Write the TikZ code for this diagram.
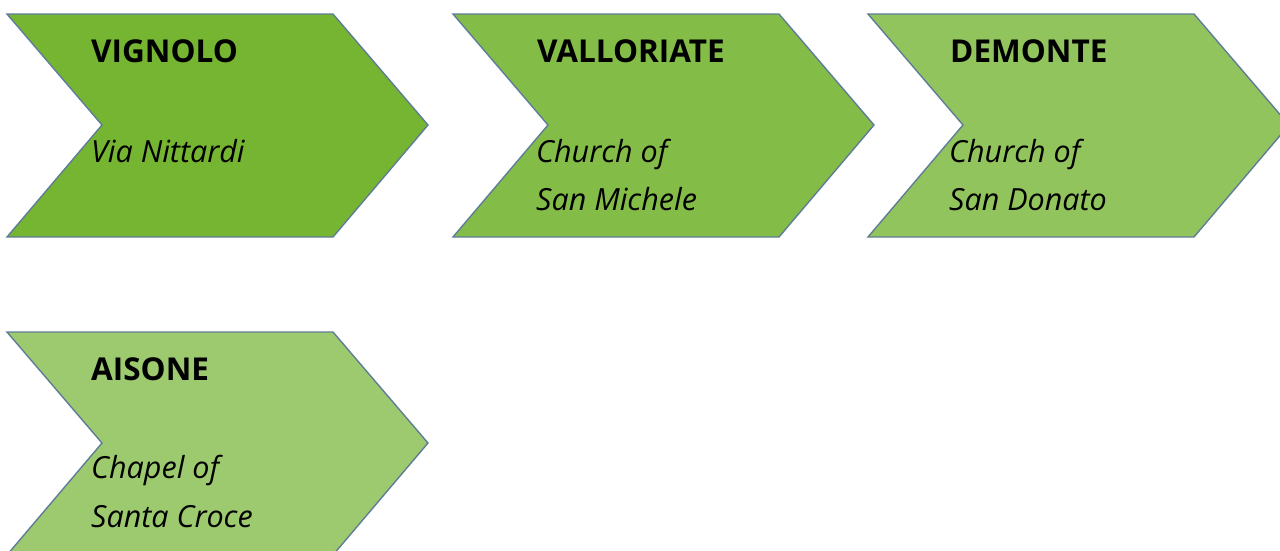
\documentclass[tikz,border=0pt]{standalone}
\usepackage{fontspec}
\setmainfont{Open Sans}
\definecolor{gA}{RGB}{118,181,49}
\definecolor{gB}{RGB}{132,188,72}
\definecolor{gC}{RGB}{146,196,93}
\definecolor{gD}{RGB}{157,202,110}
\definecolor{edge}{RGB}{95,125,150}
\tikzset{
  chev/.style={draw=edge, line width=1.4pt, line join=miter},
  ttl/.style={anchor=base west, inner sep=0pt, font=\fontsize{31.5}{36}\selectfont\bfseries},
  sub/.style={anchor=base west, inner sep=0pt, font=\fontsize{30.5}{48}\selectfont\itshape, align=left},
}
\newcommand{\chevron}[3]{%
  \fill[#3] (#1,#2) -- ++(326,0) -- ++(95,111) -- ++(-95,112) -- ++(-326,0) -- ++(95,-112) -- cycle;
  \draw[chev] (#1,#2) -- ++(326,0) -- ++(95,111) -- ++(-95,112) -- ++(-326,0) -- ++(95,-112) -- cycle;
}
\begin{document}
\begin{tikzpicture}[x=1pt,y=-1pt]
\useasboundingbox (0,0) rectangle (1280,550);
\begin{scope}
\clip (0,0) rectangle (1280,550);
\chevron{7}{14}{gA}
\chevron{453}{14}{gB}
\chevron{868}{14}{gC}
\chevron{7}{332}{gD}
\end{scope}
\node[ttl] (t1) at (91,62) {VIGNOLO};
\node[sub] (s1) at (91,162) {Via Nittardi};
\node[ttl] (t2) at (537,62) {VALLORIATE};
\node[sub] (s2a) at (536,162) {Church of};
\node[sub] (s2b) at (536,210) {San Michele};
\node[ttl] (t3) at (950,62) {DEMONTE};
\node[sub] (s3a) at (949,162) {Church of};
\node[sub] (s3b) at (949,210) {San Donato};
\node[ttl] (t4) at (91,380) {AISONE};
\node[sub] (s4a) at (91,478) {Chapel of};
\node[sub] (s4b) at (91,527) {Santa Croce};
\end{tikzpicture}
\end{document}
